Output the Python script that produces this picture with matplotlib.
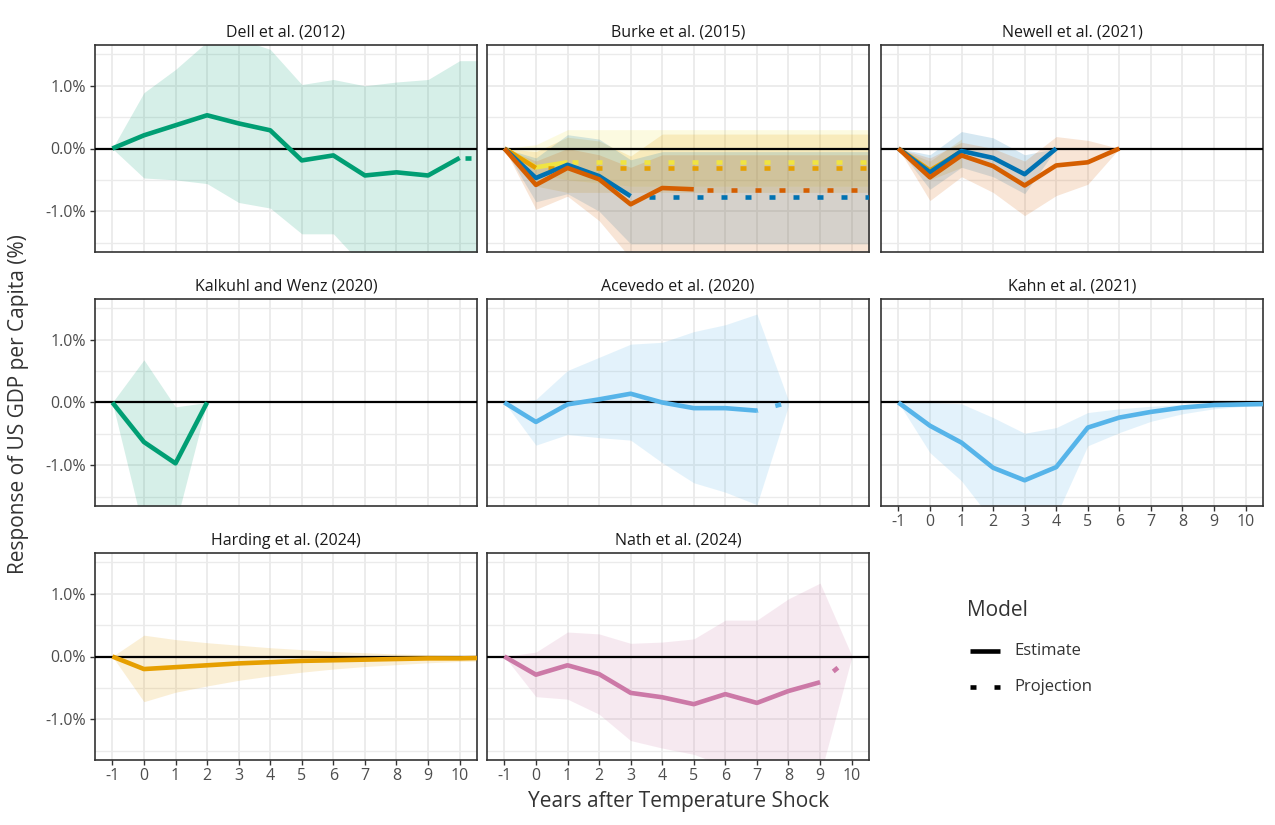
import matplotlib
matplotlib.use("Agg")
import matplotlib.pyplot as plt
from matplotlib.lines import Line2D

plt.rcParams['font.family'] = ['Open Sans', 'DejaVu Sans']
plt.rcParams['lines.scale_dashes'] = False

# x positions: -1 .. 11 (11 is only there so flat tails run past the panel edge)
years = [-1, 0, 1, 2, 3, 4, 5, 6, 7, 8, 9, 10, 11]
x_ticks = [-1, 0, 1, 2, 3, 4, 5, 6, 7, 8, 9, 10]
x_tick_labels = ['-1', '0', '1', '2', '3', '4', '5', '6', '7', '8', '9', '10']
y_ticks = [-1.0, 0.0, 1.0]
y_tick_labels = ['-1.0%', '0.0%', '1.0%']
y_minor = [-1.5, -0.5, 0.5, 1.5]

panel_titles = ['Dell et al. (2012)', 'Burke et al. (2015)', 'Newell et al. (2021)',
                'Kalkuhl and Wenz (2020)', 'Acevedo et al. (2020)', 'Kahn et al. (2021)',
                'Harding et al. (2024)', 'Nath et al. (2024)']

GREEN = '#009E73'
YELLOW = '#F0E442'
ORANGE = '#E69F00'
BLUE = '#0072B2'
VERMILLION = '#D55E00'
SKY = '#56B4E9'
PINK = '#CC79A7'

# --- Dell et al. (2012)
dell_est = [0.0, 0.21, 0.37, 0.53, 0.40, 0.29, -0.19, -0.11, -0.43, -0.38, -0.43, -0.15]
dell_proj_x = [10, 11]
dell_proj = [-0.15, -0.15]
dell_lo = [0.0, -0.47, -0.50, -0.56, -0.86, -0.95, -1.36, -1.36, -1.90, -1.90, -1.90, -1.90, -1.90]
dell_hi = [0.0, 0.89, 1.26, 1.70, 1.75, 1.58, 1.02, 1.10, 1.00, 1.06, 1.10, 1.40, 1.40]

# --- Burke et al. (2015), four specifications
burke_yellow_est = [0.0, -0.30, -0.22]
burke_yellow_proj_x = [1, 11]
burke_yellow_proj = [-0.21, -0.21]
burke_yellow_lo = [0.0, -0.40, -0.50, -0.55, -0.60, -0.60, -0.60, -0.60, -0.60, -0.60, -0.60, -0.60, -0.60]
burke_yellow_hi = [0.0, 0.06, 0.30, 0.30, 0.30, 0.30, 0.30, 0.30, 0.30, 0.30, 0.30, 0.30, 0.30]

burke_orange_est = [0.0, -0.31]
burke_orange_proj_x = [0, 11]
burke_orange_proj = [-0.31, -0.31]
burke_orange_lo = [0.0, -0.60, -0.70, -0.70, -0.70, -0.70, -0.70, -0.70, -0.70, -0.70, -0.70, -0.70, -0.70]
burke_orange_hi = [0.0, -0.05, 0.18, 0.12, -0.12, 0.23, 0.23, 0.23, 0.23, 0.23, 0.23, 0.23, 0.23]

burke_blue_est = [0.0, -0.47, -0.26, -0.44, -0.76]
burke_blue_proj_x = [3, 11]
burke_blue_proj = [-0.78, -0.78]
burke_blue_lo = [0.0, -0.85, -0.72, -1.00, -1.52, -1.52, -1.52, -1.52, -1.52, -1.52, -1.52, -1.52, -1.52]
burke_blue_hi = [0.0, -0.15, 0.22, 0.15, -0.18, -0.05, -0.05, -0.05, -0.05, -0.05, -0.05, -0.05, -0.05]

burke_verm_est = [0.0, -0.58, -0.31, -0.49, -0.89, -0.63, -0.65]
burke_verm_proj_x = [5, 11]
burke_verm_proj = [-0.66, -0.66]
burke_verm_lo = [0.0, -0.97, -0.76, -1.15, -1.75, -1.80, -1.80, -1.80, -1.80, -1.80, -1.80, -1.80, -1.80]
burke_verm_hi = [0.0, -0.20, 0.00, -0.10, -0.30, -0.10, -0.10, -0.10, -0.10, -0.10, -0.10, -0.10, -0.10]

# --- Newell et al. (2021)
newell_orange_est = [0.0, -0.35, -0.05]
newell_orange_lo = [0.0, -0.50, -0.30]
newell_orange_hi = [0.0, -0.20, 0.15]

newell_blue_est = [0.0, -0.38, -0.04, -0.15, -0.41, 0.0]
newell_blue_lo = [0.0, -0.65, -0.30, -0.45, -0.72, 0.0]
newell_blue_hi = [0.0, -0.10, 0.27, 0.17, -0.10, 0.0]

newell_verm_est = [0.0, -0.46, -0.11, -0.28, -0.59, -0.27, -0.22, 0.0]
newell_verm_lo = [0.0, -0.83, -0.45, -0.70, -1.07, -0.75, -0.57, 0.0]
newell_verm_hi = [0.0, -0.15, 0.10, 0.00, -0.20, 0.19, 0.13, 0.0]

# --- Kalkuhl and Wenz (2020)
kalkuhl_est = [0.0, -0.63, -0.97, 0.0]
kalkuhl_lo = [0.0, -2.07, -1.95, 0.0]
kalkuhl_hi = [0.0, 0.68, -0.07, 0.0]

# --- Acevedo et al. (2020)
acevedo_est = [0.0, -0.31, -0.03, 0.05, 0.14, 0.0, -0.09, -0.09, -0.13]
acevedo_proj_x = [7, 8]
acevedo_proj = [-0.13, 0.0]
acevedo_lo = [0.0, -0.68, -0.51, -0.56, -0.60, -0.96, -1.28, -1.43, -1.63, -0.05]
acevedo_hi = [0.0, 0.05, 0.51, 0.72, 0.93, 0.96, 1.13, 1.24, 1.41, 0.03]

# --- Kahn et al. (2021)
kahn_est = [0.0, -0.37, -0.64, -1.04, -1.24, -1.03, -0.40, -0.24, -0.15, -0.08, -0.04, -0.03, -0.02]
kahn_lo = [0.0, -0.80, -1.25, -1.90, -2.20, -1.80, -0.69, -0.48, -0.30, -0.18, -0.10, -0.06, -0.05]
kahn_hi = [0.0, 0.0, -0.02, -0.24, -0.49, -0.40, -0.16, -0.10, -0.06, -0.03, -0.01, -0.01, -0.01]

# --- Harding et al. (2024)
harding_est = [0.0, -0.20, -0.17, -0.14, -0.11, -0.09, -0.07, -0.06, -0.05, -0.04, -0.03, -0.03, -0.02]
harding_lo = [0.0, -0.72, -0.57, -0.47, -0.38, -0.31, -0.25, -0.20, -0.16, -0.13, -0.10, -0.08, -0.07]
harding_hi = [0.0, 0.34, 0.27, 0.22, 0.18, 0.14, 0.11, 0.08, 0.06, 0.04, 0.03, 0.02, 0.02]

# --- Nath et al. (2024)
nath_est = [0.0, -0.29, -0.14, -0.28, -0.58, -0.65, -0.76, -0.60, -0.74, -0.55, -0.41]
nath_proj_x = [9, 10]
nath_proj = [-0.41, 0.0]
nath_lo = [0.0, -0.64, -0.68, -0.92, -1.34, -1.46, -1.56, -1.75, -1.80, -1.90, -1.90, -0.02]
nath_hi = [0.0, 0.07, 0.39, 0.36, 0.21, 0.23, 0.28, 0.58, 0.58, 0.92, 1.17, 0.02]


def series(color, est, lo, hi, proj_x=None, proj=None, gap=14):
    return dict(color=color, est=est, lo=lo, hi=hi, proj_x=proj_x, proj=proj, gap=gap)


panels = [
    [series(GREEN, dell_est, dell_lo, dell_hi, dell_proj_x, dell_proj, gap=5)],
    [series(YELLOW, burke_yellow_est, burke_yellow_lo, burke_yellow_hi, burke_yellow_proj_x, burke_yellow_proj, gap=4),
     series(ORANGE, burke_orange_est, burke_orange_lo, burke_orange_hi, burke_orange_proj_x, burke_orange_proj, gap=12),
     series(BLUE, burke_blue_est, burke_blue_lo, burke_blue_hi, burke_blue_proj_x, burke_blue_proj, gap=18),
     series(VERMILLION, burke_verm_est, burke_verm_lo, burke_verm_hi, burke_verm_proj_x, burke_verm_proj, gap=13)],
    [series(ORANGE, newell_orange_est, newell_orange_lo, newell_orange_hi),
     series(BLUE, newell_blue_est, newell_blue_lo, newell_blue_hi),
     series(VERMILLION, newell_verm_est, newell_verm_lo, newell_verm_hi)],
    [series(GREEN, kalkuhl_est, kalkuhl_lo, kalkuhl_hi)],
    [series(SKY, acevedo_est, acevedo_lo, acevedo_hi, acevedo_proj_x, acevedo_proj, gap=19)],
    [series(SKY, kahn_est, kahn_lo, kahn_hi)],
    [series(ORANGE, harding_est, harding_lo, harding_hi)],
    [series(PINK, nath_est, nath_lo, nath_hi, nath_proj_x, nath_proj, gap=17)],
]

W, H = 1275, 825
fig = plt.figure(figsize=(W / 100, H / 100), dpi=100)

col_left = [95, 487, 881]
row_top = [45, 299, 553]
pw, ph = 382, 207

PX = 72 / 100  # points per pixel
dot_on, dot_off = 6 * PX, 18 * PX

for i, (title, group) in enumerate(zip(panel_titles, panels)):
    r, c = divmod(i, 3)
    ax = fig.add_axes([col_left[c] / W, 1 - (row_top[r] + ph) / H, pw / W, ph / H])
    ax.set_xlim(-1.55, 10.55)
    ax.set_ylim(-1.65, 1.65)
    ax.set_axisbelow(True)

    for s in group:
        n = len(s['lo'])
        ax.fill_between(years[:n], s['lo'], s['hi'], color=s['color'], alpha=0.16, lw=0)

    ax.axhline(0, color='black', lw=1.6, zorder=3)

    for s in group:
        ax.plot(years[:len(s['est'])], s['est'], color=s['color'], lw=3.3,
                solid_capstyle='butt', solid_joinstyle='round', zorder=4)
        if s['proj'] is not None:
            offset = dot_on + dot_off - s['gap'] * PX
            ax.plot(s['proj_x'], s['proj'], color=s['color'], lw=3.3,
                    ls=(offset, (dot_on, dot_off)), dash_capstyle='butt', zorder=4)

    ax.set_xticks(x_ticks)
    ax.set_yticks(y_ticks)
    ax.set_yticks(y_minor, minor=True)
    ax.grid(True, which='major', color='#EBEBEB', lw=1.3)
    ax.grid(True, which='minor', axis='y', color='#EBEBEB', lw=1.0)
    ax.tick_params(which='minor', length=0)

    show_x = i in (5, 6, 7)
    show_y = c == 0
    if show_x:
        ax.set_xticklabels(x_tick_labels)
    else:
        ax.set_xticklabels([])
    if show_y:
        ax.set_yticklabels(y_tick_labels)
    else:
        ax.set_yticklabels([])
    ax.tick_params(axis='x', length=3.5 if show_x else 0, width=1.0, color='#333333',
                   labelsize=11.5, labelcolor='#4D4D4D', pad=2)
    ax.tick_params(axis='y', length=3.5 if show_y else 0, width=1.0, color='#333333',
                   labelsize=11.5, labelcolor='#4D4D4D', pad=3)

    for sp in ax.spines.values():
        sp.set_color('#333333')
        sp.set_linewidth(1.2)

    ax.set_title(title, fontsize=11.5, color='#1A1A1A', pad=6)

fig.text(19 / W, 1 - 404 / H, 'Response of US GDP per Capita (%)', rotation=90,
         ha='center', va='center', fontsize=15, color='#333333')
fig.text(679 / W, 1 - 801 / H, 'Years after Temperature Shock',
         ha='center', va='center', fontsize=15, color='#333333')

# legend for the line types
fig.text(967 / W, 1 - 610 / H, 'Model', ha='left', va='center', fontsize=15, color='#333333')
legend_items = [('Estimate', '-'), ('Projection', (0, (dot_on, dot_off)))]
for k, (label, style) in enumerate(legend_items):
    yy = 1 - (651 + 36 * k) / H
    fig.add_artist(Line2D([970 / W, 1000 / W], [yy, yy], transform=fig.transFigure,
                          color='black', lw=3.3, ls=style,
                          solid_capstyle='butt', dash_capstyle='butt'))
    fig.text(1014 / W, yy, label, ha='left', va='center', fontsize=12, color='#333333')

fig.savefig('out.png', dpi=100)
